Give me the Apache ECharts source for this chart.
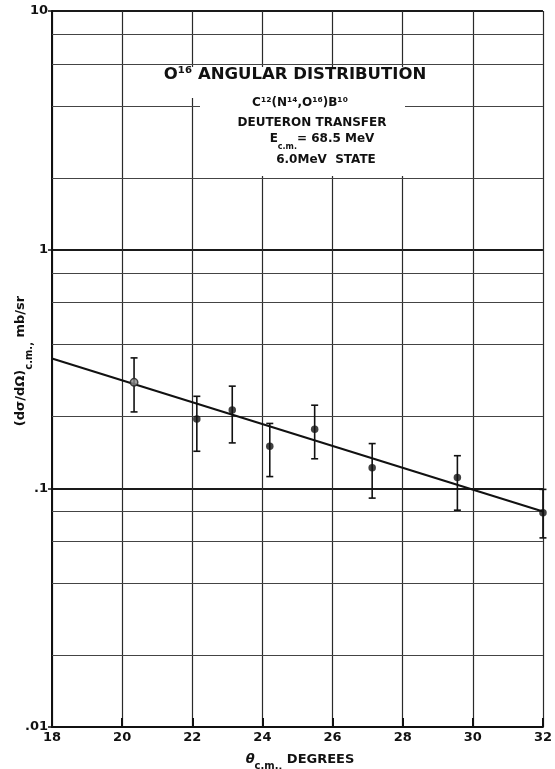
<!DOCTYPE html>
<html><head><meta charset="utf-8">
<script src="https://cdn.jsdelivr.net/npm/echarts@6/dist/echarts.min.js"></script>
<style>html,body{margin:0;padding:0;background:#fff}#c{width:555px;height:769px}</style>
</head><body><div id="c"></div>
<script>
// ---- data ----
const xTickLabels = ['18','20','22','24','26','28','30','32'];
const yDecadeLabels = ['.01','.1','1','10'];
const yMinorLines = [0.02,0.04,0.06,0.08,0.2,0.4,0.6,0.8,2,4,6,8];
const angles  = [20.34, 22.13, 23.14, 24.21, 25.49, 27.13, 29.56, 32.0];
const values  = [0.278, 0.195, 0.213, 0.150, 0.177, 0.122, 0.111, 0.079];
const errLow  = [0.209, 0.143, 0.155, 0.112, 0.133, 0.091, 0.081, 0.062];
const errHigh = [0.352, 0.243, 0.268, 0.187, 0.223, 0.154, 0.137, 0.099];
const fitX = [18, 32];
const fitY = [0.35, 0.080];

const FONT = '"DejaVu Sans", sans-serif';
const chart = echarts.init(document.getElementById('c'), null, {renderer:'canvas'});

function yFmt(v){
  const n = Number(v.toPrecision(3));
  return n >= 1 ? String(n) : String(n).replace(/^0/, '');
}

const option = {
  animation: false,
  backgroundColor: '#fff',
  grid: {left: 52, right: 2, top: 11, bottom: 42, containLabel: false},
  xAxis: {
    type: 'value', min: 18, max: 32, interval: 2,
    axisLine: {show: true, onZero: false, lineStyle: {color: '#111', width: 2}},
    axisTick: {show: true, inside: true, length: 9, lineStyle: {color: '#111', width: 2}},
    axisLabel: {margin: 4, color: '#111', fontFamily: FONT, fontWeight: 'bold', fontSize: 13,
      formatter: v => xTickLabels[Math.round((v - 18) / 2)] || ''},
    splitLine: {show: true, lineStyle: {color: '#2a2a2a', width: 1.2}}
  },
  yAxis: {
    type: 'log', logBase: 10, min: 0.01, max: 10,
    axisLine: {show: true, lineStyle: {color: '#111', width: 2}},
    axisTick: {show: true, length: 4, lineStyle: {color: '#111', width: 1.5}},
    axisLabel: {margin: 4, color: '#111', fontFamily: FONT, fontWeight: 'bold', fontSize: 13,
      formatter: v => yFmt(v)},
    splitLine: {show: true, lineStyle: {color: '#1a1a1a', width: 1.8}}
  },
  series: [
    {
      type: 'line', name: 'fit', data: fitX.map((x, i) => [x, fitY[i]]),
      symbol: 'none', z: 3,
      lineStyle: {color: '#111', width: 2},
      markLine: {
        silent: true, symbol: 'none', label: {show: false}, z: 1,
        lineStyle: {color: '#444', width: 1, type: 'solid'},
        data: yMinorLines.map(v => ({yAxis: v}))
      }
    },
    {
      type: 'custom', name: 'err', z: 4,
      data: angles.map((a, i) => [a, errLow[i], errHigh[i]]),
      encode: {x: 0, y: [1, 2]},
      renderItem: function(params, api){
        const x = api.value(0);
        const pLo = api.coord([x, api.value(1)]);
        const pHi = api.coord([x, api.value(2)]);
        const w = 3.5;
        const st = {stroke: '#111', lineWidth: 1.6};
        return {type: 'group', children: [
          {type: 'line', shape: {x1: pLo[0], y1: pLo[1], x2: pHi[0], y2: pHi[1]}, style: st},
          {type: 'line', shape: {x1: pLo[0]-w, y1: pLo[1], x2: pLo[0]+w, y2: pLo[1]}, style: st},
          {type: 'line', shape: {x1: pHi[0]-w, y1: pHi[1], x2: pHi[0]+w, y2: pHi[1]}, style: st}
        ]};
      }
    },
    {
      type: 'scatter', name: 'data', z: 5,
      symbol: 'circle', symbolSize: 7.5,
      itemStyle: {color: '#111'},
      data: angles.map((a, i) => i === 0
        ? {value: [a, values[i]], itemStyle: {color: '#888', borderColor: '#222', borderWidth: 1.5}}
        : [a, values[i]])
    }
  ],
  graphic: [
    {type: 'rect', z: 50, shape: {x: 140, y: 67, width: 305, height: 31}, style: {fill: '#fff'}},
    {type: 'rect', z: 50, shape: {x: 200, y: 97, width: 205, height: 79}, style: {fill: '#fff'}},
    {type: 'text', z: 60, x: 295, y: 75, style: {text: 'O\u00b9\u2076 ANGULAR DISTRIBUTION', font: 'bold 16.5px ' + FONT, fill: '#111', align: 'center', verticalAlign: 'middle'}},
    {type: 'text', z: 60, x: 300, y: 103, style: {text: 'C\u00b9\u00b2(N\u00b9\u2074,O\u00b9\u2076)B\u00b9\u2070', font: 'bold 12px ' + FONT, fill: '#111', align: 'center', verticalAlign: 'middle'}},
    {type: 'text', z: 60, x: 312, y: 123, style: {text: 'DEUTERON TRANSFER', font: 'bold 12px ' + FONT, fill: '#111', align: 'center', verticalAlign: 'middle'}},
    {type: 'text', z: 60, x: 322, y: 142, style: {
      text: '{a|E}{b|c.m.}{a|= 68.5 MeV}', align: 'center', verticalAlign: 'middle',
      rich: {
        a: {font: 'bold 12px ' + FONT, fill: '#111', color: '#111', lineHeight: 18, verticalAlign: 'top'},
        b: {font: 'bold 8px ' + FONT, fill: '#111', color: '#111', lineHeight: 9, verticalAlign: 'bottom'}
      }}},
    {type: 'text', z: 60, x: 326, y: 160, style: {text: '6.0MeV  STATE', font: 'bold 12px ' + FONT, fill: '#111', align: 'center', verticalAlign: 'middle'}},
    {type: 'text', z: 60, x: 24, y: 361, rotation: Math.PI / 2, style: {
      text: '{a|(d\u03c3/d\u03a9)}{b|c.m.,}{a| mb/sr}', align: 'center', verticalAlign: 'middle',
      rich: {
        a: {font: 'bold 13px ' + FONT, fill: '#111', color: '#111', lineHeight: 20, verticalAlign: 'top'},
        b: {font: 'bold 10px ' + FONT, fill: '#111', color: '#111', lineHeight: 11, verticalAlign: 'bottom'}
      }}},
    {type: 'text', z: 60, x: 300, y: 762, style: {
      text: '{t|\u03b8}{b|c.m.,}{a| DEGREES}', align: 'center', verticalAlign: 'middle',
      rich: {
        t: {font: 'italic bold 13px ' + FONT, fill: '#111', color: '#111', lineHeight: 18, verticalAlign: 'top'},
        a: {font: 'bold 13px ' + FONT, fill: '#111', color: '#111', lineHeight: 18, verticalAlign: 'top'},
        b: {font: 'bold 10px ' + FONT, fill: '#111', color: '#111', lineHeight: 11, verticalAlign: 'bottom'}
      }}}
  ]
};
chart.setOption(option);
</script>
</body></html>
